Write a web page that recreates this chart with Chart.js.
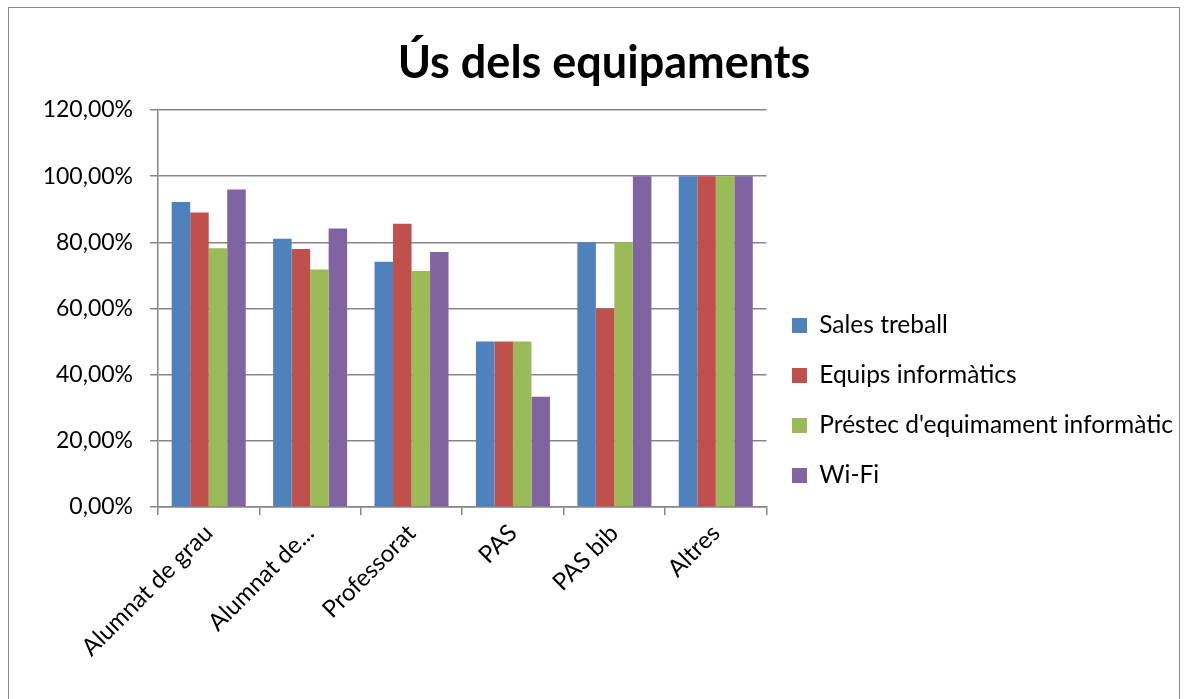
<!DOCTYPE html>
<html>
<head>
<meta charset="utf-8">
<script src="https://cdn.jsdelivr.net/npm/chart.js@4.4.0/dist/chart.umd.min.js"></script>
<style>
  html, body { margin: 0; padding: 0; background: #fff; }
  #frame { position: absolute; left: 8px; top: 7px; width: 1172px; height: 720px; border: 1px solid #8c8c8c; box-sizing: border-box; }
  #wrap { position: absolute; left: 0; top: 0; width: 1188px; height: 699px; }
</style>
</head>
<body>
<div id="frame"></div>
<div id="wrap"><canvas id="myChart" width="1188" height="699"></canvas></div>
<script>
// categories and series (percentages)
var categories = ["Alumnat de grau", "Alumnat de...", "Professorat", "PAS", "PAS bib", "Altres"];
var salesTreball = [92.2, 81.1, 74.1, 50, 80, 100];
var equipsInformatics = [89.0, 78.0, 85.6, 50, 60, 100];
var prestecEquipament = [78.2, 71.8, 71.3, 50, 80, 100];
var wifi = [96.0, 84.2, 77.1, 33.33, 100, 100];
var yTicks = [0, 20, 40, 60, 80, 100, 120];

var fontFamily = 'Lato, "Open Sans", sans-serif';

function drawChart() {
  var ctx = document.getElementById('myChart').getContext('2d');
  var chart = new Chart(ctx, {
    type: 'bar',
    data: {
        labels: categories,
        datasets: [{
            label: "Sales treball",
            backgroundColor: '#4F81BD',
            data: salesTreball
        },
        {
            label: "Equips informàtics",
            backgroundColor: '#C0504D',
            data: equipsInformatics
        },
        {
            label: "Préstec d'equimament informàtic",
            backgroundColor: '#9BBB59',
            data: prestecEquipament
        },
        {
            label: "Wi-Fi",
            backgroundColor: '#8064A2',
            data: wifi
        }]
    },
    options: {
        responsive: false,
        animation: false,
        datasets: {
            bar: { categoryPercentage: 0.73, barPercentage: 1.0 }
        },
        layout: { padding: { left: 25, right: 5, top: 0, bottom: 0 } },
        plugins: {
            title: {
                display: true,
                text: 'Ús dels equipaments',
                color: '#000',
                font: { family: fontFamily, size: 45, weight: 'bold' },
                padding: { top: 36, bottom: 20 }
            },
            legend: {
                display: true,
                position: 'right',
                maxWidth: 440,
                // empty title only used as a spacer to push the items down
                title: {
                    display: true,
                    text: '',
                    font: { size: 10 },
                    padding: { top: 0, bottom: 90 }
                },
                labels: {
                    color: '#000',
                    font: { family: fontFamily, size: 24.5 },
                    boxWidth: 15,
                    boxHeight: 15,
                    padding: 25.5
                }
            },
            tooltip: { enabled: false }
        },
        scales: {
            x: {
                afterFit: function (scale) { scale.height = 192; },
                grid: {
                    offset: true,
                    drawOnChartArea: false,
                    drawTicks: true,
                    tickLength: 8,
                    color: '#868686',
                    lineWidth: 1.5
                },
                border: { color: '#868686', width: 1.5 },
                ticks: {
                    color: '#000',
                    font: { family: fontFamily, size: 24 },
                    minRotation: 45,
                    maxRotation: 45,
                    autoSkip: false,
                    padding: 4
                }
            },
            y: {
                min: 0,
                max: 120,
                afterBuildTicks: function (scale) {
                    scale.ticks = yTicks.map(function (v) { return { value: v }; });
                },
                afterFit: function (scale) { scale.width = 133; },
                grid: {
                    color: '#868686',
                    lineWidth: 1.5,
                    tickLength: 8
                },
                border: { color: '#868686', width: 1.5 },
                ticks: {
                    color: '#000',
                    font: { family: fontFamily, size: 23 },
                    padding: 17,
                    callback: function (v) { return v.toFixed(2).replace('.', ',') + '%'; }
                }
            }
        }
    }
  });
}

Promise.all([
  document.fonts.load('22px Lato'),
  document.fonts.load('bold 45px Lato')
]).then(drawChart, drawChart);
</script>
</body>
</html>
